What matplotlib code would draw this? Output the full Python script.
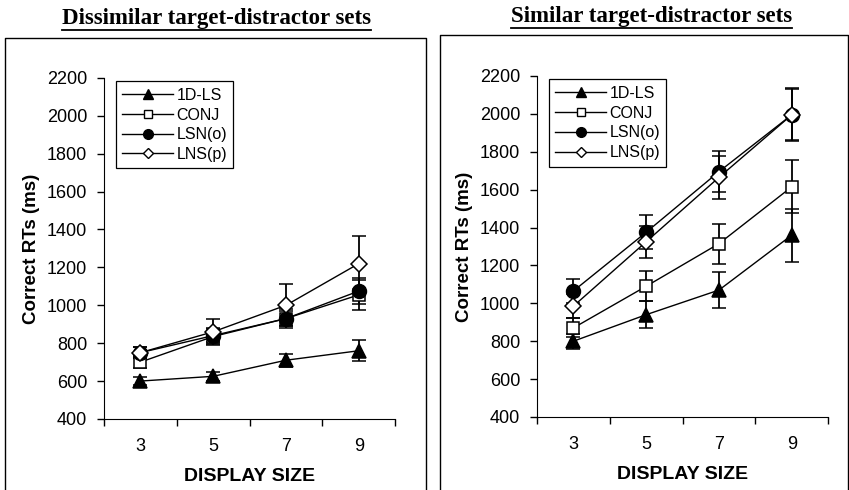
import matplotlib.pyplot as plt
from matplotlib.lines import Line2D

sizes = [3, 5, 7, 9]
series_names = ['1D-LS', 'CONJ', 'LSN(o)', 'LNS(p)']

# Dissimilar target-distractor sets
dis_1dls = [600, 625, 710, 760]
dis_conj = [700, 835, 930, 1055]
dis_lsn = [750, 840, 930, 1075]
dis_lns = [750, 860, 1000, 1220]
dis_1dls_err = [20, 25, 35, 55]
dis_conj_err = [30, 45, 40, 80]
dis_lsn_err = [30, 35, 50, 70]
dis_lns_err = [30, 65, 110, 145]

# Similar target-distractor sets
sim_1dls = [800, 940, 1070, 1360]
sim_conj = [870, 1090, 1315, 1615]
sim_lsn = [1065, 1375, 1695, 1995]
sim_lns = [985, 1325, 1665, 1995]
sim_1dls_err = [40, 70, 95, 140]
sim_conj_err = [50, 80, 105, 140]
sim_lsn_err = [65, 90, 110, 135]
sim_lns_err = [65, 85, 115, 140]

titles = ['Dissimilar target-distractor sets', 'Similar target-distractor sets']

markers = ['^', 's', 'o', 'D']
faces = ['black', 'white', 'black', 'white']
msizes = [10, 9, 10, 8.5]
leg_sizes = [6.5, 6, 7, 5]

plt.rcParams['font.family'] = ['Liberation Sans', 'DejaVu Sans']

fig = plt.figure(figsize=(8.49, 4.90), dpi=100)

panels = [
    ([0.1225, 0.145, 0.343, 0.696],
     [dis_1dls, dis_conj, dis_lsn, dis_lns],
     [dis_1dls_err, dis_conj_err, dis_lsn_err, dis_lns_err],
     (0.255, 0.962)),
    ([0.6325, 0.149, 0.343, 0.696],
     [sim_1dls, sim_conj, sim_lsn, sim_lns],
     [sim_1dls_err, sim_conj_err, sim_lsn_err, sim_lns_err],
     (0.767, 0.967)),
]

title_texts = []
for i, (pos, data, errs, tpos) in enumerate(panels):
    ax = fig.add_axes(pos)
    for vals, err, m, fc, ms in zip(data, errs, markers, faces, msizes):
        ax.errorbar(sizes, vals, yerr=err, color='black', linewidth=1.0,
                    elinewidth=1.3, capsize=5, capthick=1.3, zorder=3,
                    marker=m, markersize=ms, markerfacecolor=fc,
                    markeredgecolor='black', markeredgewidth=1.1)
    ax.set_xlim(2, 10)
    ax.set_ylim(400, 2200)
    ax.set_yticks(range(400, 2201, 200))
    ax.set_xticks(sizes)
    ax.set_xticks([2, 4, 6, 8, 10], minor=True)
    ax.tick_params(axis='x', which='major', length=0, labelsize=13, pad=14)
    ax.tick_params(axis='x', which='minor', length=5, direction='out', width=1)
    ax.tick_params(axis='y', length=5, direction='out', labelsize=13, width=1, pad=7)
    ax.spines['top'].set_visible(False)
    ax.spines['right'].set_visible(False)
    ax.set_xlabel('DISPLAY SIZE', fontsize=14, fontweight='bold', labelpad=9)
    ax.set_ylabel('Correct RTs (ms)', fontsize=13.5, fontweight='bold', labelpad=5)
    handles = [Line2D([], [], color='black', linewidth=1.0, marker=m, markersize=s,
                      markerfacecolor=fc, markeredgecolor='black')
               for m, fc, s in zip(markers, faces, leg_sizes)]
    leg = ax.legend(handles, series_names, loc='upper left',
                    bbox_to_anchor=(0.04, 0.99), borderaxespad=0,
                    fontsize=11.5, handlelength=3.2, labelspacing=0.3,
                    handletextpad=0.2, fancybox=False, framealpha=1,
                    edgecolor='black', borderpad=0.4)
    leg.get_frame().set_linewidth(0.9)
    t = fig.text(tpos[0], tpos[1], titles[i], ha='center', va='center',
                 fontsize=16.5, fontweight='bold', family=['Liberation Serif', 'DejaVu Serif'])
    title_texts.append(t)

# panel frames
W, H = 849, 490
def fx(px):
    return px / W
def fy(py):
    return 1 - py / H

for x0, x1, ytop in [(5, 426, 38), (440, 848, 35)]:
    fig.add_artist(Line2D([fx(x0), fx(x0), fx(x1), fx(x1)],
                          [fy(490), fy(ytop), fy(ytop), fy(490)],
                          color='black', linewidth=1.0))

# underline titles
fig.canvas.draw()
renderer = fig.canvas.get_renderer()
for t in title_texts:
    bb = t.get_window_extent(renderer).transformed(fig.transFigure.inverted())
    fig.add_artist(Line2D([bb.x0, bb.x1], [bb.y0 - 0.002, bb.y0 - 0.002],
                          color='black', linewidth=1.3))

fig.savefig('out.png', dpi=100)
